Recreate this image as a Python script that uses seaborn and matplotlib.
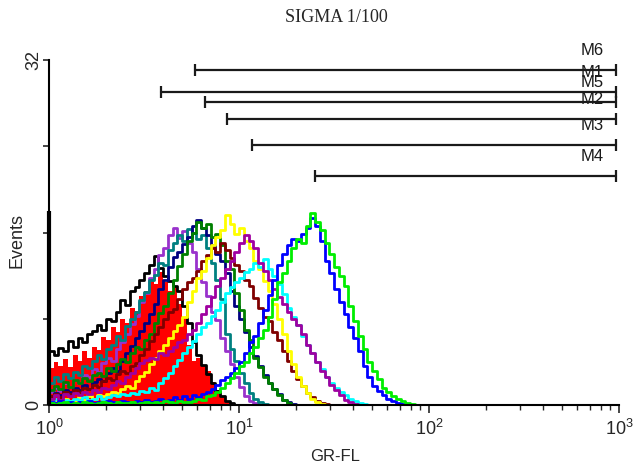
import numpy as np
import pandas as pd
import matplotlib
matplotlib.use("Agg")
import matplotlib.pyplot as plt
import seaborn as sns
from matplotlib.ticker import LogLocator, NullFormatter

# ---------------- data ----------------
title = "SIGMA 1/100"
x_label = "GR-FL"
y_label = "Events"
y_tick_values = [0, 8, 16, 24, 32]
y_tick_labels = ["0", "", "", "", "32"]

channel_decades = 0.025   # histogram channel width (decades of GR-FL)

# filled control histogram (red)
red_fill = [3.4, 4.0, 3.6, 4.3, 3.5, 4.6, 4.1, 5.0, 4.4, 5.4, 5.1, 6.3, 6.0, 7.2, 6.8, 8.0,
            7.6, 9.0, 8.7, 10.1, 10.6, 11.8, 11.2, 12.3, 11.4, 10.6, 10.9, 9.4, 8.2, 5.6,
            4.1, 4.4, 3.6, 3.2, 2.1, 1.4, 0.7, 0.3, 0.1, 0.0]

black_first_channel = 18.0
black = [5.0, 4.6, 5.3, 5.0, 5.9, 5.4, 6.2, 5.8, 6.6, 6.9, 7.4, 7.0, 8.0, 7.8, 8.6, 9.7,
         9.3, 10.6, 10.9, 11.6, 12.2, 13.0, 13.8, 12.7, 12.0, 11.5, 11.0, 10.6, 9.2, 7.6,
         5.8, 4.6, 3.7, 2.9, 2.0, 1.3, 0.8, 0.4, 0.2, 0.0]

violet = [1.2, 1.6, 1.3, 2.0, 1.7, 2.3, 2.0, 2.8, 2.6, 3.3, 3.1, 3.9, 4.4, 4.1, 5.2, 5.8,
          6.6, 7.5, 8.3, 9.6, 10.4, 11.8, 12.6, 13.9, 14.6, 15.8, 16.4, 15.5, 16.1, 15.0,
          14.2, 12.6, 11.4, 10.1, 8.6, 7.9, 6.2, 5.0, 3.8, 2.6, 1.7, 0.8, 0.4, 0.2, 0.0]

teal = [2.0, 2.6, 2.2, 2.9, 2.5, 3.1, 2.8, 3.6, 3.4, 4.1, 4.6, 4.3, 5.2, 5.6, 6.4, 6.0,
        7.3, 8.0, 8.6, 9.7, 10.5, 11.6, 12.1, 13.2, 13.0, 14.4, 15.0, 15.8, 15.2, 16.3,
        16.0, 15.4, 15.8, 14.6, 13.2, 11.6, 9.8, 6.6, 5.2, 4.1, 3.0, 2.0, 1.1, 0.6, 0.3,
        0.1, 0.0]

navy = [0.8, 1.1, 0.9, 1.4, 1.2, 1.6, 1.4, 1.9, 1.5, 2.1, 2.4, 2.2, 3.0, 3.4, 3.2, 4.1,
        4.8, 5.5, 6.2, 6.9, 7.6, 8.4, 9.4, 10.8, 11.6, 12.8, 13.7, 14.2, 14.9, 15.6,
        16.6, 17.2, 16.4, 15.8, 14.8, 14.0, 13.4, 12.2, 10.6, 9.2, 8.0, 6.8, 5.4, 4.5,
        3.6, 2.8, 2.0, 1.5, 1.0, 0.5, 0.3, 0.1, 0.0]

green = [1.4, 1.8, 1.5, 2.1, 1.7, 2.3, 2.0, 2.5, 2.2, 2.8, 3.0, 2.7, 3.4, 3.2, 3.8, 4.3,
         4.0, 4.8, 5.4, 5.2, 6.0, 6.6, 7.6, 8.5, 9.2, 10.4, 11.6, 12.9, 14.0, 15.2,
         16.0, 17.0, 16.4, 16.8, 15.6, 15.9, 14.8, 13.4, 12.6, 10.4, 8.8, 7.0, 6.0, 4.4,
         3.5, 2.6, 2.0, 1.5, 0.9, 0.5, 0.2, 0.0]

maroon = [0.8, 1.0, 0.7, 1.2, 1.0, 1.4, 1.2, 1.6, 1.5, 1.9, 1.7, 2.2, 2.5, 2.3, 2.9, 3.2,
          3.0, 3.6, 3.9, 4.6, 5.2, 5.9, 6.6, 7.2, 8.0, 8.6, 8.9, 9.8, 10.8, 11.4,
          11.8, 12.4, 13.4, 13.9, 14.6, 14.2, 15.0, 14.4, 13.6, 13.0, 12.4, 11.6, 11.0,
          9.9, 9.0, 8.2, 7.8, 6.8, 6.0, 5.0, 4.1, 3.2, 2.4, 1.8, 1.1, 0.7, 0.4, 0.2, 0.1,
          0.0]

yellow = [0.3, 0.5, 0.3, 0.6, 0.4, 0.5, 0.7, 0.5, 0.8, 0.6, 0.9, 0.8, 1.0, 1.2, 1.1, 1.5,
          1.8, 1.6, 2.2, 2.7, 3.1, 3.8, 4.4, 5.0, 5.6, 6.2, 6.9, 7.4, 8.2, 9.6,
          10.6, 11.8, 12.4, 13.6, 14.8, 15.6, 16.2, 17.6, 16.8, 15.9, 16.4, 15.2, 14.6,
          13.4, 12.6, 11.5, 10.6, 9.4, 8.0, 6.6, 5.0, 3.8, 2.6, 1.8, 1.1, 0.6, 0.3, 0.1,
          0.0]

cyan = [0.4, 0.6, 0.3, 0.5, 0.4, 0.6, 0.5, 0.7, 0.5, 0.6, 0.8, 0.6, 0.7, 0.9, 0.8, 1.0,
        0.9, 1.1, 1.0, 1.3, 1.2, 1.6, 1.4, 2.0, 2.5, 3.0, 3.6, 4.2, 4.8, 5.4,
        5.9, 6.6, 7.2, 7.6, 8.3, 8.8, 9.6, 10.4, 10.9, 11.4, 11.8, 12.3, 12.6, 13.2,
        12.8, 13.5, 12.6, 12.0, 11.2, 10.3, 9.0, 8.2, 7.4, 6.4, 5.6, 4.8, 4.0, 3.3,
        2.6, 2.0, 1.6, 1.2, 0.9, 0.6, 0.4, 0.2, 0.1, 0.0]

magenta = [0.6, 0.9, 0.5, 1.0, 0.8, 1.1, 0.9, 1.2, 1.0, 1.4, 1.2, 1.6, 1.5, 1.9, 2.2, 2.0,
           2.6, 3.0, 3.4, 3.9, 4.2, 4.4, 4.3, 4.8, 4.6, 5.0, 5.4, 5.8, 6.0, 6.6,
           7.0, 7.6, 8.4, 9.2, 10.0, 11.0, 11.8, 12.6, 13.4, 14.2, 15.0, 15.8, 15.2,
           14.6, 13.2, 12.4, 11.6, 10.8, 10.0, 9.4, 8.6, 8.0, 7.4, 6.6, 5.6, 4.8, 4.0,
           3.2, 2.6, 1.9, 1.4, 0.9, 0.5, 0.3, 0.1, 0.0]

blue = [0.3, 0.2, 0.4, 0.2, 0.3, 0.1, 0.3, 0.2, 0.4, 0.2, 0.3, 0.2, 0.4, 0.3, 0.2, 0.4,
        0.3, 0.2, 0.4, 0.3, 0.5, 0.3, 0.4, 0.6, 0.4, 0.5, 0.7, 0.5, 0.8, 0.6,
        0.9, 0.7, 1.0, 1.2, 1.5, 1.9, 2.3, 2.6, 3.0, 3.4, 4.0, 4.8, 5.8, 6.4, 7.6,
        8.8, 10.2, 11.6, 13.0, 14.0, 14.8, 15.4, 15.2, 15.9, 16.4, 17.3, 16.6, 15.2,
        13.4, 12.2, 10.8, 9.6, 8.4, 7.2, 6.2, 5.0, 3.6, 2.6, 1.8, 1.3, 0.9, 0.6, 0.4,
        0.2, 0.1, 0.0]

lime = [0.2, 0.1, 0.2, 0.3, 0.1, 0.2, 0.1, 0.3, 0.2, 0.1, 0.2, 0.3, 0.2, 0.1, 0.3, 0.2,
        0.2, 0.3, 0.1, 0.2, 0.3, 0.2, 0.3, 0.2, 0.4, 0.3, 0.2, 0.4, 0.3, 0.3,
        0.4, 0.6, 0.5, 0.8, 0.9, 1.2, 1.6, 2.0, 2.5, 3.0, 3.6, 4.0, 4.8, 5.4, 6.2,
        7.0, 8.2, 9.8, 11.4, 12.2, 13.4, 14.6, 15.4, 15.0, 16.6, 17.8, 17.0, 16.2,
        15.0, 14.0, 12.8, 12.0, 11.0, 9.2, 7.8, 6.4, 5.2, 4.0, 3.2, 2.4, 1.6, 1.2,
        0.8, 0.6, 0.4, 0.2, 0.1, 0.0]

series_names = ["black", "violet", "teal", "navy", "green", "maroon",
                "yellow", "cyan", "magenta", "blue", "lime"]
series_values = [black, violet, teal, navy, green, maroon,
                 yellow, cyan, magenta, blue, lime]
series_colors = ["#000000", "#9932cc", "#008080", "#000080", "#008000", "#800000",
                 "#ffff00", "#00ffff", "#a000a0", "#0000ff", "#00ee00"]

gate_names = ["M6", "M1", "M5", "M2", "M3", "M4"]
gate_low = [5.9, 3.9, 6.6, 8.6, 11.7, 25.0]
gate_high = [960, 960, 960, 960, 960, 960]
gate_levels = [31.1, 29.0, 28.1, 26.5, 24.1, 21.2]
gate_label_x = 720

# ---------------- style ----------------
sns.set_style("ticks")
plt.rcParams["font.family"] = ["Liberation Sans", "DejaVu Sans"]
plt.rcParams["mathtext.fontset"] = "custom"
plt.rcParams["mathtext.rm"] = "Liberation Sans"
plt.rcParams["mathtext.it"] = "Liberation Sans:italic"
plt.rcParams["mathtext.default"] = "regular"

fig = plt.figure(figsize=(6.36, 4.66), dpi=100)
fig.patch.set_facecolor("white")
ax = fig.add_axes([49 / 636, 61 / 466, 570 / 636, 345 / 466])
ax.set_facecolor("white")

def edges_for(vals):
    return 10 ** (channel_decades * np.arange(len(vals) + 1))

# red filled histogram
red_x = edges_for(red_fill)
red_y = np.append(red_fill, red_fill[-1])
ax.fill_between(red_x, red_y, step="post", color="#ff0000", linewidth=0, zorder=1)

# line histograms
frames = []
for name, vals in zip(series_names, series_values):
    x = edges_for(vals)
    y = np.append(vals, 0.0)
    frames.append(pd.DataFrame({"GR-FL": x, "Events": y, "series": name}))
df = pd.concat(frames, ignore_index=True)

sns.lineplot(data=df, x="GR-FL", y="Events", hue="series", hue_order=series_names,
             palette=dict(zip(series_names, series_colors)), estimator=None,
             sort=False, drawstyle="steps-post", linewidth=2.0, legend=False,
             ax=ax, zorder=2)

# first-channel spike of the black histogram
ax.vlines(1.0, 0, black_first_channel, color="black", linewidth=3.0,
          clip_on=False, zorder=3)

# gate markers
for name, lo, hi, lev in zip(gate_names, gate_low, gate_high, gate_levels):
    ax.plot([lo, hi], [lev, lev], color="#1a1a1a", linewidth=1.6, marker="|",
            markersize=9, markeredgewidth=1.6, clip_on=False, zorder=4)
    ax.annotate(name, xy=(gate_label_x, lev), xytext=(0, 14),
                textcoords="offset points", ha="center", va="center",
                fontsize=12, color="#1a1a1a", annotation_clip=False)

# axes
ax.set_xscale("log")
ax.set_xlim(1, 1000)
ax.set_ylim(0, 32)
ax.xaxis.set_major_locator(LogLocator(base=10, numticks=10))
ax.xaxis.set_minor_locator(LogLocator(base=10, subs=np.arange(2, 10), numticks=100))
ax.xaxis.set_minor_formatter(NullFormatter())
ax.set_yticks(y_tick_values)
ax.set_yticklabels(y_tick_labels, rotation=90, va="center")

for side in ["top", "right"]:
    ax.spines[side].set_visible(False)
for side in ["left", "bottom"]:
    ax.spines[side].set_linewidth(1.5)
    ax.spines[side].set_color("black")

ax.tick_params(axis="x", which="major", direction="out", length=6, width=1.2,
               labelsize=13, pad=4)
ax.tick_params(axis="x", which="minor", direction="out", length=3.5, width=1.0)
ax.tick_params(axis="y", which="major", direction="out", length=4, width=1.2,
               labelsize=13, pad=1)

ax.set_xlabel(x_label, fontsize=12)
ax.set_ylabel(y_label, fontsize=13)
ax.xaxis.set_label_coords(0.502, -0.128)
ax.yaxis.set_label_coords(-0.042, 0.478)

fig.text(336 / 636, 1 - 17 / 466, title, ha="center", va="center",
         fontsize=13, family=["Liberation Serif", "DejaVu Serif"])

fig.savefig("out.png", dpi=100, facecolor="white")
